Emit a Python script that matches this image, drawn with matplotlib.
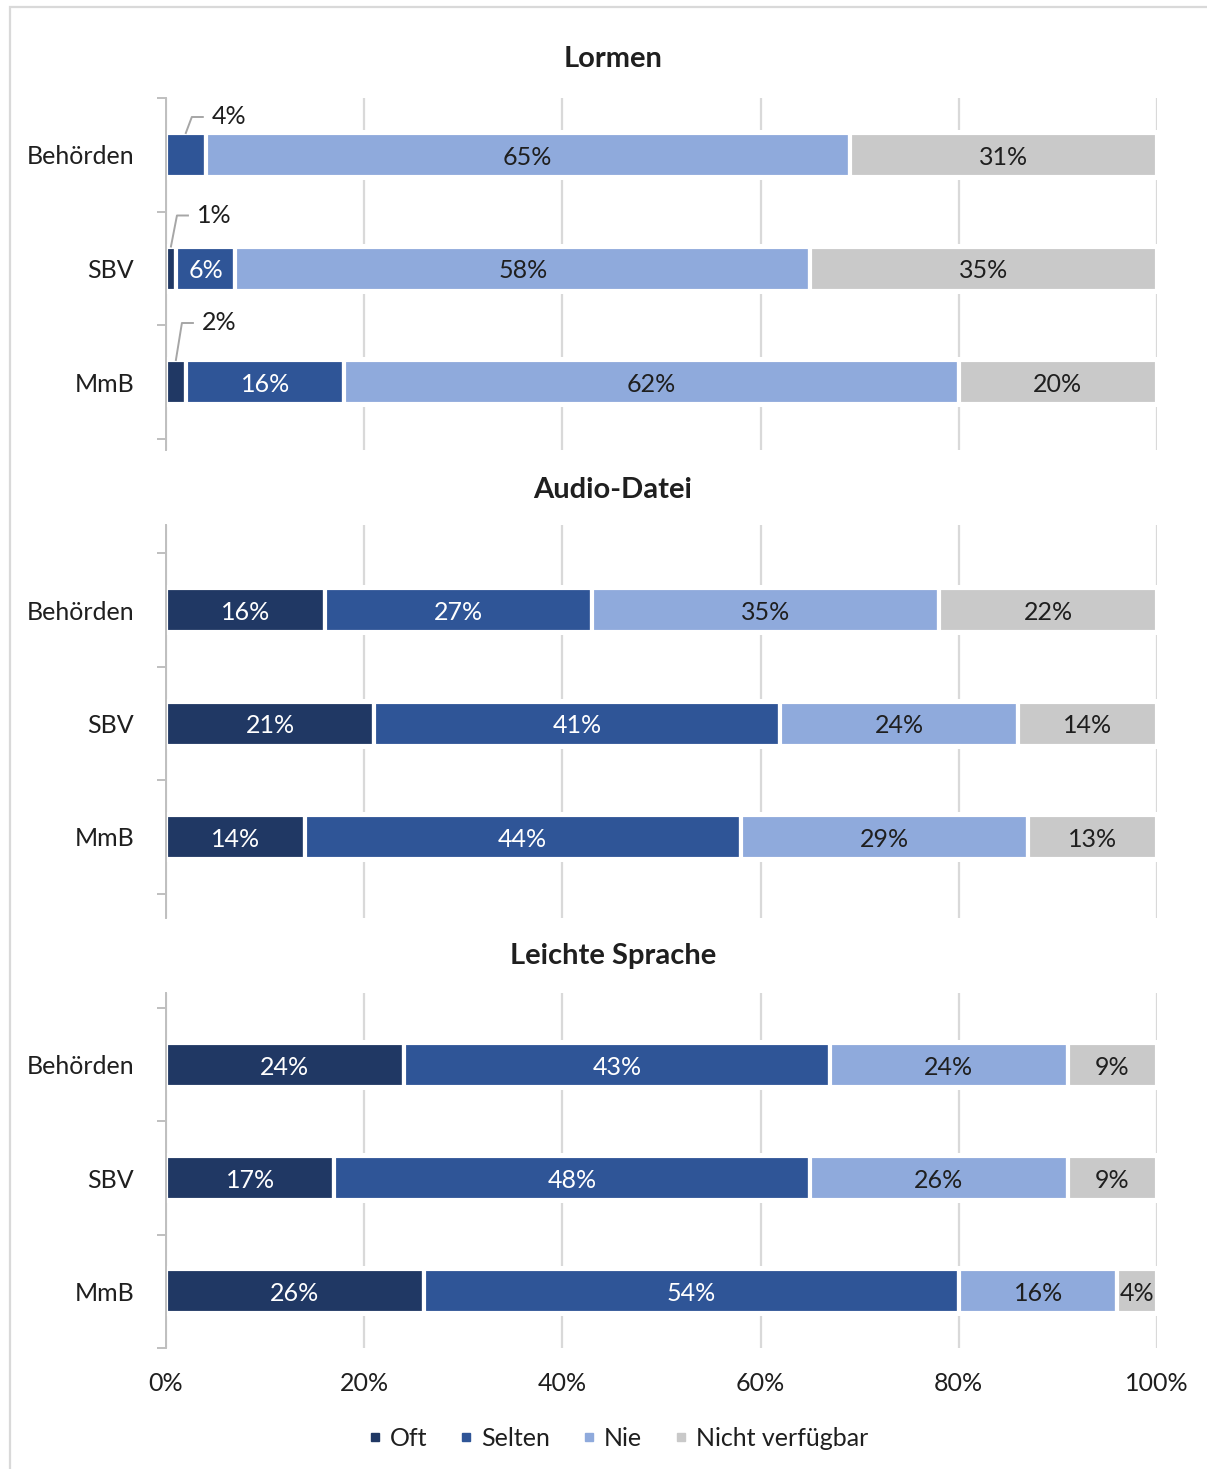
import numpy as np
import matplotlib.pyplot as plt
from matplotlib.lines import Line2D
from matplotlib.patches import Rectangle

plt.rcParams['font.family'] = ['Lato', 'DejaVu Sans']

# data
titles = ['Lormen', 'Audio-Datei', 'Leichte Sprache']
groups = ['Behörden', 'SBV', 'MmB']
series = ['Oft', 'Selten', 'Nie', 'Nicht verfügbar']
colors = ['#203864', '#2f5597', '#8faadc', '#c9c9c9']

lormen_oft = [0, 1, 2]
lormen_selten = [4, 6, 16]
lormen_nie = [65, 58, 62]
lormen_nv = [31, 35, 20]

audio_oft = [16, 21, 14]
audio_selten = [27, 41, 44]
audio_nie = [35, 24, 29]
audio_nv = [22, 14, 13]

leicht_oft = [24, 17, 26]
leicht_selten = [43, 48, 54]
leicht_nie = [24, 26, 16]
leicht_nv = [9, 9, 4]

panel_data = [
    [lormen_oft, lormen_selten, lormen_nie, lormen_nv],
    [audio_oft, audio_selten, audio_nie, audio_nv],
    [leicht_oft, leicht_selten, leicht_nie, leicht_nv],
]

# layout (pixels)
W, H = 1207, 1469
X0, X1 = 166, 1157
ROW = 113.5
panels_px = [(98, 450, 155, 59), (525, 918, 610, 490), (993, 1348, 1065, 956)]
# small labels drawn outside with leader line: (panel, group, series) -> lift in px
outside = {(0, 0, 1): 18, (0, 1, 0): 33, (0, 2, 0): 39}

fig = plt.figure(figsize=(W / 100, H / 100), dpi=100)
fig.patches.append(Rectangle((10 / W, -0.1), 1.2, 1.1 - 7 / H, transform=fig.transFigure,
                             fill=False, edgecolor='#d9d9d9', lw=1.6))

ppx = (X1 - X0) / 100.0  # px per percent
txt = '#1f1f1f'
fs = 18

for p, (top, bot, c0, ty) in enumerate(panels_px):
    ax = fig.add_axes([X0 / W, 1 - bot / H, (X1 - X0) / W, (bot - top) / H])
    ax.set_xlim(0, 100)
    ax.set_ylim((bot - c0) / ROW, (top - c0) / ROW)
    ax.set_axisbelow(True)
    ax.set_xticks([0, 20, 40, 60, 80, 100])
    ax.grid(axis='x', color='#d9d9d9', lw=1.6)
    ax.grid(axis='y', visible=False)
    for s in ['top', 'right', 'bottom']:
        ax.spines[s].set_visible(False)
    ax.spines['left'].set_color('#bfbfbf')
    ax.spines['left'].set_linewidth(1.4)
    ax.spines['left'].set_zorder(4)

    ax.set_yticks([-0.5, 0.5, 1.5, 2.5])
    ax.set_yticklabels([])
    ax.tick_params(axis='y', which='major', length=6.5, width=1.4, color='#bfbfbf')
    ax.set_yticks([0, 1, 2], minor=True)
    ax.set_yticklabels(groups, minor=True, fontsize=fs, color=txt)
    ax.tick_params(axis='y', which='minor', length=0, pad=23)

    if p == 2:
        ax.set_xticklabels([f'{v}%' for v in range(0, 101, 20)], fontsize=fs, color=txt)
        ax.tick_params(axis='x', length=0, pad=17)
    else:
        ax.tick_params(axis='x', length=0, labelbottom=False)

    y = np.arange(len(groups))
    ax.barh(y, 101.5, left=-0.5, height=50 / ROW, color='white', zorder=1, clip_on=False)
    left = np.zeros(len(groups))
    vals = panel_data[p]
    for i, v in enumerate(vals):
        v = np.array(v, dtype=float)
        ax.barh(y, v, left=left, height=44 / ROW, color=colors[i], edgecolor='white',
                lw=3, zorder=3)
        for g in range(len(groups)):
            if v[g] == 0:
                continue
            mid = left[g] + v[g] / 2
            lab = f'{int(v[g])}%'
            if (p, g, i) in outside:
                lift = outside[(p, g, i)]
                ytop = g - 20 / ROW
                yl = ytop - lift / ROW
                ax.plot([mid, mid + 6 / ppx, mid + 17 / ppx],
                        [ytop - 2 / ROW, yl, yl], color='#a6a6a6', lw=1.4, zorder=5,
                        clip_on=False)
                ax.text(mid + 26 / ppx, yl, lab, ha='left', va='center', fontsize=fs,
                        color=txt, zorder=6)
            else:
                ax.text(mid, g + 0.02, lab, ha='center', va='center', fontsize=fs,
                        color='white' if i < 2 else txt, zorder=6)
        left += v

    fig.text(613 / W, 1 - ty / H, titles[p], ha='center', va='center', fontsize=21,
             fontweight='bold', color=txt)

handles = [Line2D([], [], ls='', marker='s', markersize=6, color=c) for c in colors]
fig.legend(handles, series, loc='center', bbox_to_anchor=(618 / W, 1 - 1438 / H), ncol=4,
           frameon=False, fontsize=fs, handlelength=0.6, handletextpad=0.3,
           columnspacing=1.25, labelcolor=txt)

fig.savefig('out.png', dpi=100, facecolor='white')
